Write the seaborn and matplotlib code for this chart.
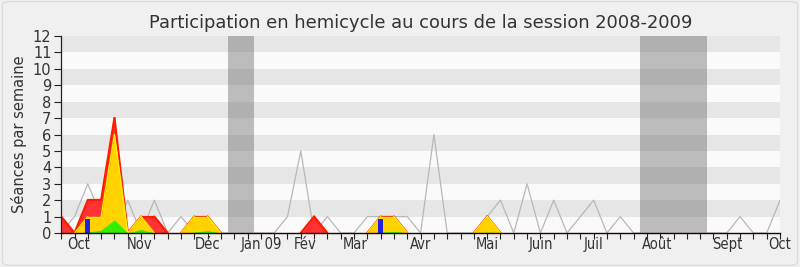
import numpy as np
import pandas as pd
import matplotlib
matplotlib.use("Agg")
import matplotlib.pyplot as plt
from matplotlib.patches import FancyBboxPatch
from matplotlib.collections import LineCollection
import seaborn as sns

# ---- data (one value per week, 55 weeks) ----
weeks = list(range(55))
total_sessions = [0, 1, 3, 1, 0, 2, 0, 2, 0, 1, 0, 1, 0, 0, 0, 0, 0, 1, 5, 0,
                  1, 0, 0, 1, 1, 1, 1, 0, 6, 0, 0, 0, 1, 2, 0, 3, 0, 2, 0, 1,
                  2, 0, 1, 0, 0, 0, 0, 0, 0, 0, 0, 1, 0, 0, 2]
presences = [1, 0, 2, 2, 7, 0, 1, 1, 0, 0, 1, 1, 0, 0, 0, 0, 0, 0, 0, 1,
             0, 0, 0, 0, 1, 1, 0, 0, 0, 0, 0, 0, 1, 0, 0, 0, 0, 0, 0, 0,
             0, 0, 0, 0, 0, 0, 0, 0, 0, 0, 0, 0, 0, 0, 0]
participations = [0, 0, 1, 1, 6, 0, 1, 0, 0, 0, 1, 1, 0, 0, 0, 0, 0, 0, 0, 0,
                  0, 0, 0, 0, 1, 1, 0, 0, 0, 0, 0, 0, 1, 0, 0, 0, 0, 0, 0, 0,
                  0, 0, 0, 0, 0, 0, 0, 0, 0, 0, 0, 0, 0, 0, 0]
interventions = [0, 0, 0.05, 0.18, 0.8, 0, 0.22, 0, 0, 0, 0.05, 0.15, 0, 0, 0, 0, 0, 0, 0, 0,
                 0, 0, 0, 0, 0.05, 0.1, 0, 0, 0, 0, 0, 0, 0.05, 0, 0, 0, 0, 0, 0, 0,
                 0, 0, 0, 0, 0, 0, 0, 0, 0, 0, 0, 0, 0, 0, 0]
questions = [0, 0, 0.85, 0, 0, 0, 0, 0, 0, 0, 0, 0, 0, 0, 0, 0, 0, 0, 0, 0,
             0, 0, 0, 0, 0.85, 0, 0, 0, 0, 0, 0, 0, 0, 0, 0, 0, 0, 0, 0, 0,
             0, 0, 0, 0, 0, 0, 0, 0, 0, 0, 0, 0, 0, 0, 0]
vacances = [(12.5, 14.5), (43.5, 48.5)]
month_labels = ["Oct", "Nov", "Déc", "Jan 09", "Fév", "Mar", "Avr", "Mai",
                "Juin", "Juil", "Août", "Sept", "Oct"]
month_pos = [1.3, 5.9, 11.0, 15.0, 18.3, 22.1, 27.0, 32.0, 36.0, 40.0, 44.8, 50.0, 54.0]

df = pd.DataFrame({"semaine": weeks, "seances": total_sessions})

sns.set_theme(style="white")
plt.rcParams["font.family"] = ["DejaVu Sans"]

fig = plt.figure(figsize=(8, 2.67), dpi=100)
fig.patch.set_facecolor("#f0f0f0")
fig.patches.append(FancyBboxPatch((0.003, 0.006), 0.994, 0.988, boxstyle="round,pad=0,rounding_size=0.012",
                                  transform=fig.transFigure, facecolor="none",
                                  edgecolor="#dcdcdc", linewidth=1.0))
ax = fig.add_axes([0.0765, 0.1273, 0.8985, 0.7378])
ax.set_facecolor("#fafafa")

# background bands
for k in range(1, 12, 2):
    ax.axhspan(k, k + 1, color="#e6e6e6", zorder=0, lw=0)
for a, b in vacances:
    ax.axvspan(a, b, color="#5f5f5f", alpha=0.4, zorder=0.5, lw=0)

sns.lineplot(data=df, x="semaine", y="seances", color="#b8b8b8", linewidth=0.9, ax=ax, zorder=1)

x = np.array(weeks, dtype=float)


def edge(values, color, lw, z):
    v = np.asarray(values, dtype=float)
    segs = [[(x[i], v[i]), (x[i + 1], v[i + 1])]
            for i in range(len(v) - 1) if v[i] > 0 or v[i + 1] > 0]
    ax.add_collection(LineCollection(segs, colors=color, linewidths=lw, zorder=z,
                                     capstyle="round", joinstyle="round"))


ax.fill_between(x, presences, color="#ff3333", lw=0, zorder=2)
edge(presences, "#ff1a00", 1.6, 2.1)
ax.fill_between(x, participations, color="#ffd200", lw=0, zorder=3)
edge(participations, "#ffee00", 1.0, 3.1)
ax.fill_between(x, interventions, color="#33ee00", lw=0, zorder=4)
ax.bar(x, questions, width=0.38, color="#2222dd", zorder=5, lw=0)

ax.set_xlim(0, 54)
ax.set_ylim(0, 12)
ax.set_yticks(range(0, 13))
ax.set_yticklabels([str(v) for v in range(13)], fontsize=10.5, color="#333333")
ax.set_xticks(weeks)
ax.set_xticklabels([])
ax.xaxis.remove_overlapping_locs = False
ax.set_xticks(month_pos, minor=True)
ax.set_xticklabels(month_labels, minor=True, fontsize=10.5, color="#333333", fontstretch="condensed")
ax.tick_params(axis="x", which="major", direction="out", length=4, width=0.8, color="#222222", bottom=True)
ax.tick_params(axis="x", which="minor", length=0, pad=3, bottom=True)
ax.tick_params(axis="y", direction="out", length=5, width=0.8, color="#222222", left=True, pad=2)

for s in ["top", "right"]:
    ax.spines[s].set_visible(False)
ax.spines["left"].set_color("#222222")
ax.spines["bottom"].set_color("#220000")
ax.spines["left"].set_linewidth(0.9)
ax.spines["bottom"].set_linewidth(1.0)
ax.spines["left"].set_zorder(6)
ax.spines["bottom"].set_zorder(6)

ax.set_xlabel("")
ax.set_ylabel("Séances par semaine", fontsize=10.5, color="#333333", labelpad=4)
ax.set_title("Participation en hemicycle au cours de la session 2008-2009",
             fontsize=12.9, color="#333333", pad=6)

fig.savefig("out.png", dpi=100, facecolor=fig.get_facecolor())
